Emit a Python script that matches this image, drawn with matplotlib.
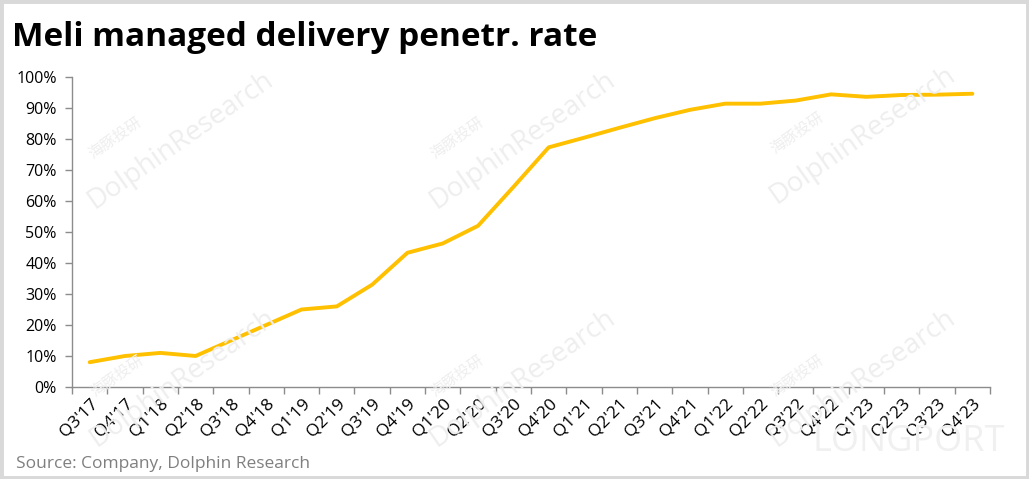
import matplotlib
matplotlib.use("Agg")
import matplotlib.pyplot as plt
from matplotlib.patches import Rectangle
from matplotlib.ticker import MultipleLocator, FuncFormatter, FixedLocator

plt.rcParams['font.family'] = ['Open Sans', 'Noto Sans CJK SC', 'DejaVu Sans']

quarters = ["Q3'17", "Q4'17", "Q1'18", "Q2'18", "Q3'18", "Q4'18", "Q1'19", "Q2'19",
            "Q3'19", "Q4'19", "Q1'20", "Q2'20", "Q3'20", "Q4'20", "Q1'21", "Q2'21",
            "Q3'21", "Q4'21", "Q1'22", "Q2'22", "Q3'22", "Q4'22", "Q1'23", "Q2'23",
            "Q3'23", "Q4'23"]
penetration = [8, 10, 11, 10, 15, 20, 25, 26, 33, 43.3, 46.3, 52, 64.5, 77.3, 80.4, 83.6,
               86.7, 89.4, 91.4, 91.4, 92.4, 94.4, 93.6, 94.2, 94.3, 94.6]

title = "Meli managed delivery penetr. rate"
source = "Source: Company, Dolphin Research"

W, H = 1029, 479
fig = plt.figure(figsize=(W / 100, H / 100), dpi=100)
fig.patch.set_facecolor('white')

# outer frame
fig.patches.append(Rectangle((0, 0), 1, 1, transform=fig.transFigure, fill=False,
                             edgecolor='#d9d9d9', linewidth=5, zorder=0))

# watermarks
wm_color = '#eeeeee'
for (wx, wy) in [(180, 140), (522, 140), (862, 135), (182, 378), (522, 378), (862, 378)]:
    fig.text(wx / W, 1 - wy / H, "DolphinResearch", rotation=35, fontsize=20,
             color=wm_color, ha='center', va='center', zorder=0)
    fig.text((wx - 65) / W, 1 - (wy - 2) / H, "海豚投研", rotation=35, fontsize=11,
             color=wm_color, ha='center', va='center', zorder=0,
             family=['Noto Sans CJK SC'])
fig.text(1005 / W, 1 - 442 / H, "LONGPORT", fontsize=26, color='#f0f0f0',
         ha='right', va='center', zorder=0)

left, right, top, bottom = 72, 990, 77, 387
ax = fig.add_axes([left / W, 1 - bottom / H, (right - left) / W, (bottom - top) / H])
ax.patch.set_alpha(0)

x = list(range(len(quarters)))
ax.plot(x, penetration, color='#FFC000', linewidth=2.8, solid_joinstyle='round',
        solid_capstyle='round', zorder=3)

ax.set_xlim(-0.5, len(quarters) - 0.5)
ax.set_ylim(0, 100)
ax.yaxis.set_major_locator(MultipleLocator(10))
ax.yaxis.set_major_formatter(FuncFormatter(lambda v, p: f"{int(round(v))}%"))

ax.set_xticks(x)
ax.set_xticklabels(quarters, rotation=45, ha='right', rotation_mode='anchor',
                   fontsize=12.5, color='black')
ax.xaxis.set_minor_locator(FixedLocator([i - 0.5 for i in range(len(quarters) + 1)]))
ax.tick_params(axis='x', which='major', length=0, pad=6)
ax.tick_params(axis='x', which='minor', length=5, color='#8c8c8c', width=1)
ax.tick_params(axis='y', length=5, color='#8c8c8c', width=1, labelsize=11.5, pad=6)

for s in ['top', 'right']:
    ax.spines[s].set_visible(False)
for s in ['left', 'bottom']:
    ax.spines[s].set_color('#8c8c8c')
    ax.spines[s].set_linewidth(1)

fig.text(12 / W, 1 - 37 / H, title, fontsize=24, fontweight='bold', color='black',
         ha='left', va='center')
fig.text(16 / W, 1 - 464 / H, source, fontsize=12.5, color='#7f7f7f',
         ha='left', va='center')

fig.savefig('out.png', dpi=100, facecolor='white')
